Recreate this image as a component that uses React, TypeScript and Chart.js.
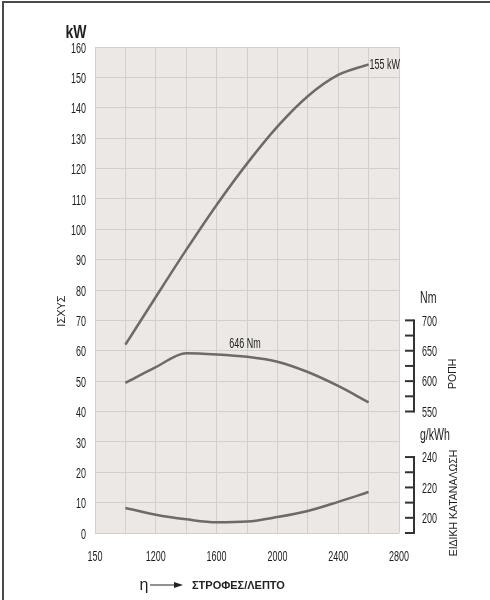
import React, { useEffect, useRef } from 'react';
import { Chart, registerables } from 'chart.js';

Chart.register(...registerables);

// Engine speed (rpm)
const rpm = [1000, 1200, 1400, 1600, 1800, 2000, 2200, 2400, 2600];
// Power (kW)
const powerKW = [62, 77.7, 93.2, 108, 121.6, 133.8, 143.8, 150.8, 154.3];
// Torque (Nm)
const torqueNm = [597, 623, 646, 644, 640, 632, 615, 592, 565];
// Specific consumption (g/kWh)
const bsfc = [206.5, 202, 199, 197, 197.5, 200.5, 204.5, 210.5, 217];

const xTickValues = [800, 1200, 1600, 2000, 2400, 2800];
const xTickLabels = ['150', '1200', '1600', '2000', '2400', '2800'];
const nmTicks = [550, 575, 600, 625, 650, 675, 700];
const nmLabels = [550, 600, 650, 700];
const gTicks = [190, 200, 210, 220, 230, 240];
const gLabels = [200, 220, 240];

const SANS = "'Liberation Sans','DejaVu Sans',sans-serif";
const LINE = '#6e6a6a';
const TEXT = '#1e1e1e';

const nText = (
  ctx: any,
  text: string,
  x: number,
  y: number,
  align: 'left' | 'right' | 'center',
  font: string,
  sx = 0.6
) => {
  ctx.save();
  ctx.font = font;
  ctx.textBaseline = 'middle';
  ctx.textAlign = 'left';
  const w = ctx.measureText(text).width * sx;
  const left = align === 'left' ? x : align === 'right' ? x - w : x - w / 2;
  ctx.translate(left, y);
  ctx.scale(sx, 1);
  ctx.fillText(text, 0, 0);
  ctx.restore();
};

const decorPlugin = {
  id: 'decor',
  beforeDraw(chart: any) {
    const { ctx, chartArea: a } = chart;
    ctx.save();
    ctx.fillStyle = '#ffffff';
    ctx.fillRect(0, 0, chart.width, chart.height);
    ctx.fillStyle = '#ebe8e5';
    ctx.fillRect(a.left, a.top, a.right - a.left, a.bottom - a.top);
    // outer frame (left and top)
    ctx.strokeStyle = '#4a4a4a';
    ctx.lineWidth = 2;
    ctx.beginPath();
    ctx.moveTo(3, chart.height);
    ctx.lineTo(3, 2);
    ctx.lineTo(chart.width, 2);
    ctx.stroke();
    ctx.restore();
  },
  afterDraw(chart: any) {
    const { ctx, scales, chartArea: a } = chart;
    const x = scales.x;
    const y = scales.y;
    const yNm = scales.yNm;
    const yG = scales.yG;
    ctx.save();
    ctx.fillStyle = TEXT;
    ctx.strokeStyle = '#333';
    ctx.lineWidth = 2;

    const tickFont = `15px ${SANS}`;
    // left axis labels
    y.ticks.forEach((t: any) => {
      nText(ctx, String(t.value), a.left - 9, y.getPixelForValue(t.value) + 1.5, 'right', tickFont);
    });
    // bottom axis labels
    xTickValues.forEach((v, i) => {
      nText(ctx, xTickLabels[i], x.getPixelForValue(v), a.bottom + 24, 'center', tickFont);
    });

    const bracketX = a.right + 15;
    const tickL = 9;
    const drawBracket = (scale: any, ticks: number[], labels: number[]) => {
      const yTop = scale.getPixelForValue(ticks[ticks.length - 1]);
      const yBot = scale.getPixelForValue(ticks[0]);
      ctx.beginPath();
      ctx.moveTo(bracketX, yTop - 1);
      ctx.lineTo(bracketX, yBot + 1);
      ctx.stroke();
      ticks.forEach((t) => {
        const py = scale.getPixelForValue(t);
        ctx.beginPath();
        ctx.moveTo(bracketX - tickL, py);
        ctx.lineTo(bracketX, py);
        ctx.stroke();
      });
      labels.forEach((l) => {
        nText(ctx, String(l), bracketX + 8, scale.getPixelForValue(l) + 1, 'left', tickFont);
      });
    };
    drawBracket(yNm, nmTicks, nmLabels);
    drawBracket(yG, gTicks, gLabels);

    // unit labels
    nText(ctx, 'Nm', bracketX + 6, yNm.getPixelForValue(700) - 22, 'left', `16px ${SANS}`, 0.66);
    nText(ctx, 'g/kWh', bracketX + 6, yG.getPixelForValue(240) - 21, 'left', `16px ${SANS}`, 0.66);

    // rotated side titles
    const rot = (text: string, cx: number, cy: number, font: string) => {
      ctx.save();
      ctx.translate(cx, cy);
      ctx.rotate(-Math.PI / 2);
      ctx.font = font;
      ctx.textAlign = 'center';
      ctx.textBaseline = 'middle';
      ctx.fillText(text, 0, 0);
      ctx.restore();
    };
    rot('ΡΟΠΗ', bracketX + 39, yNm.getPixelForValue(612), `10.5px ${SANS}`);
    rot('ΕΙΔΙΚΗ ΚΑΤΑΝΑΛΩΣΗ', bracketX + 40, 503, `10.5px ${SANS}`);
    rot('ΙΣΧΥΣ', 62, 311, `11px ${SANS}`);

    // kW title
    nText(ctx, 'kW', 76, 33, 'center', `bold 18px ${SANS}`, 0.78);

    // annotations
    const annFont = `14px ${SANS}`;
    nText(
      ctx,
      '155 kW',
      x.getPixelForValue(rpm[rpm.length - 1]) + 1,
      y.getPixelForValue(powerKW[powerKW.length - 1]) + 1,
      'left',
      annFont,
      0.64
    );
    nText(ctx, '646 Nm', x.getPixelForValue(1800) - 2, yNm.getPixelForValue(646) - 9, 'center', annFont, 0.64);

    // bottom axis caption
    ctx.font = `16px ${SANS}`;
    ctx.textAlign = 'center';
    ctx.textBaseline = 'middle';
    ctx.fillText('η', 144, 586);
    ctx.lineWidth = 1;
    ctx.strokeStyle = '#222';
    ctx.beginPath();
    ctx.moveTo(150, 585);
    ctx.lineTo(176, 585);
    ctx.stroke();
    ctx.beginPath();
    ctx.moveTo(183, 585);
    ctx.lineTo(174, 582);
    ctx.lineTo(174, 588);
    ctx.closePath();
    ctx.fillStyle = '#222';
    ctx.fill();
    ctx.font = `bold 11px ${SANS}`;
    ctx.textAlign = 'left';
    ctx.fillText('ΣΤΡΟΦΕΣ/ΛΕΠΤΟ', 192, 586);
    ctx.restore();
  },
};

export default function App() {
  const ref = useRef<HTMLCanvasElement | null>(null);
  useEffect(() => {
    if (!ref.current) return;
    const mk = (vals: number[]) => rpm.map((r, i) => ({ x: r, y: vals[i] }));
    const common = {
      borderColor: LINE,
      borderWidth: 2.5,
      pointRadius: 0,
      fill: false,
      cubicInterpolationMode: 'monotone' as const,
    };
    const chart = new Chart(ref.current, {
      type: 'line',
      data: {
        datasets: [
          { label: 'Power', data: mk(powerKW), yAxisID: 'y', ...common },
          { label: 'Torque', data: mk(torqueNm), yAxisID: 'yNm', ...common },
          { label: 'BSFC', data: mk(bsfc), yAxisID: 'yG', ...common },
        ],
      },
      options: {
        animation: false,
        responsive: false,
        devicePixelRatio: 1,
        layout: { padding: { top: 47, right: 91, left: 0, bottom: 0 } },
        plugins: { legend: { display: false }, tooltip: { enabled: false } },
        scales: {
          x: {
            type: 'linear',
            min: 800,
            max: 2800,
            border: { display: false },
            grid: { color: '#d3cfcb', lineWidth: 1, drawTicks: false },
            ticks: { stepSize: 200, autoSkip: false, maxRotation: 0, display: false },
            afterFit: (s: any) => {
              s.height = 67;
            },
          },
          y: {
            type: 'linear',
            min: 0,
            max: 160,
            border: { display: false },
            grid: { color: '#d3cfcb', lineWidth: 1, drawTicks: false },
            ticks: { stepSize: 10, display: false },
            afterFit: (s: any) => {
              s.width = 95;
            },
          },
          yNm: { type: 'linear', display: false, min: 350, max: 1150 },
          yG: { type: 'linear', display: false, min: 190, max: 510 },
        },
      },
      plugins: [decorPlugin],
    });
    return () => chart.destroy();
  }, []);
  return (
    <div style={{ position: 'absolute', left: 0, top: 0, width: 490, height: 600 }}>
      <canvas ref={ref} width={490} height={600} style={{ display: 'block' }} />
    </div>
  );
}
